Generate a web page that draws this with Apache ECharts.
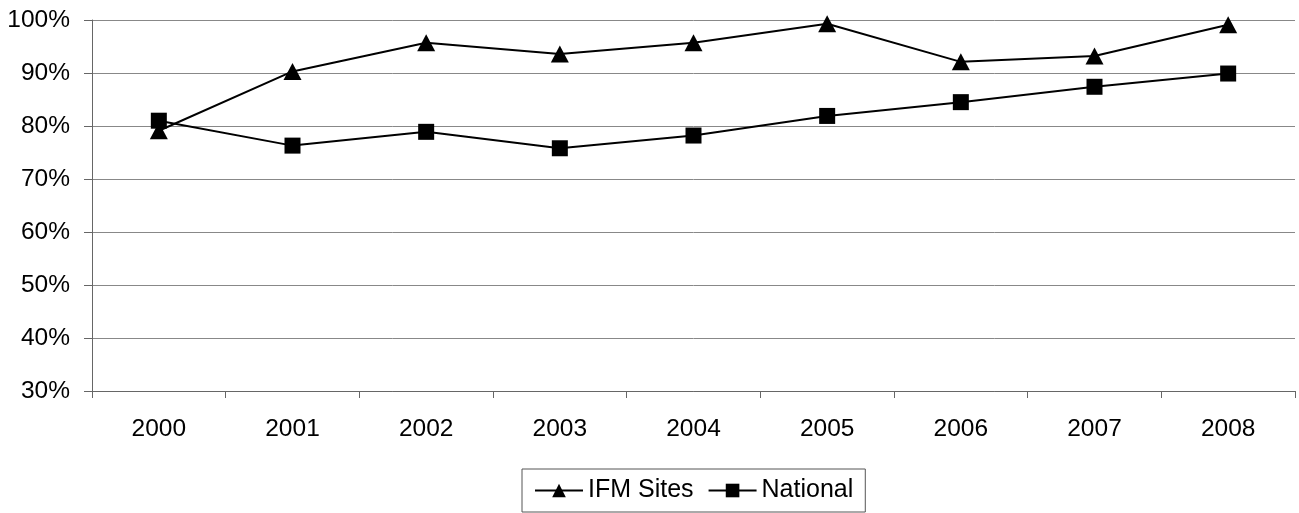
<!DOCTYPE html>
<html><head><meta charset="utf-8">
<script src="https://cdn.jsdelivr.net/npm/echarts@6/dist/echarts.min.js"></script>
<style>html,body{margin:0;padding:0;background:#fff}#c{width:1299px;height:513px}</style>
</head><body><div id="c"></div>
<script>
const years = ['2000','2001','2002','2003','2004','2005','2006','2007','2008'];
const ifmSites = [79.1, 90.3, 95.7, 93.6, 95.7, 99.3, 92.1, 93.2, 99.1];
const national = [81.0, 76.3, 78.9, 75.8, 78.2, 81.9, 84.5, 87.4, 89.9];
const yTicks = [30, 40, 50, 60, 70, 80, 90, 100];

const chart = echarts.init(document.getElementById('c'), null, {renderer:'canvas'});
const font = 'Liberation Sans, Arial, sans-serif';
chart.setOption({
  animation:false,
  backgroundColor:'#fff',
  textStyle:{fontFamily:font},
  grid:{left:92, right:4, top:20, bottom:122, containLabel:false},
  legend:{
    bottom:1, left:522,
    data:['IFM Sites','National'],
    borderColor:'#555', borderWidth:1, padding:[9,12,9,12],
    itemWidth:48, itemHeight:17, itemGap:14,
    textStyle:{fontSize:25, color:'#000', fontFamily:font}
  },
  xAxis:{
    type:'category', data:years, boundaryGap:true,
    axisLine:{lineStyle:{color:'#666'}},
    axisTick:{show:true, length:7, lineStyle:{color:'#666'}},
    axisLabel:{fontSize:24.5, color:'#000', margin:26, fontFamily:font}
  },
  yAxis:{
    type:'value', min:yTicks[0], max:yTicks[yTicks.length-1], interval:10,
    axisLine:{show:true, lineStyle:{color:'#666'}},
    axisTick:{show:true, length:8, lineStyle:{color:'#666'}},
    splitLine:{lineStyle:{color:'#888', width:1}},
    axisLabel:{fontSize:24.5, color:'#000', margin:22, formatter:'{value}%', fontFamily:font}
  },
  series:[
    {name:'IFM Sites', type:'line', data:ifmSites, symbol:'triangle', symbolSize:[18,17],
     itemStyle:{color:'#000'}, lineStyle:{color:'#000', width:2}},
    {name:'National', type:'line', data:national, symbol:'rect', symbolSize:16,
     itemStyle:{color:'#000'}, lineStyle:{color:'#000', width:2}}
  ]
});
</script></body></html>
